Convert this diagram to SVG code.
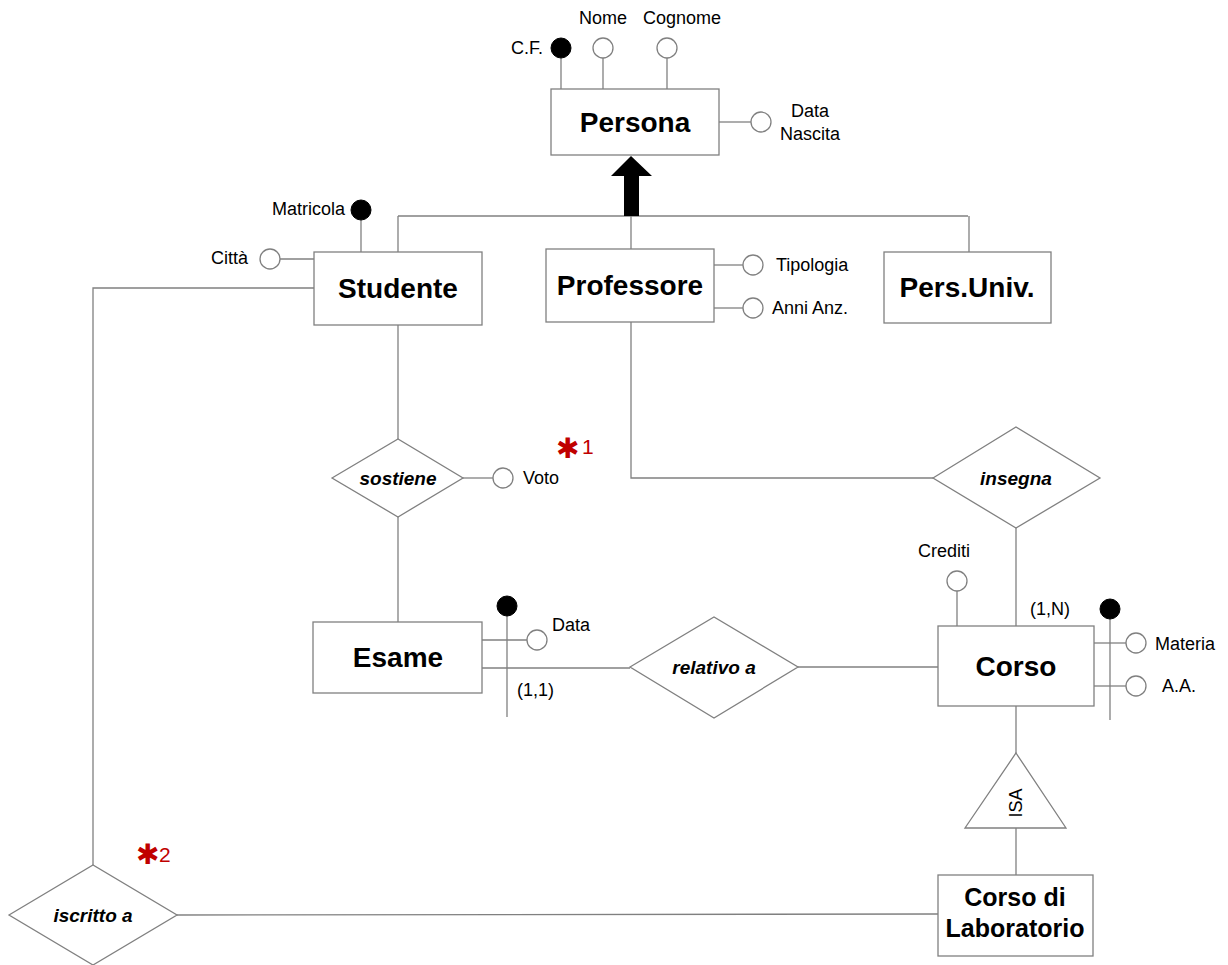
<svg xmlns="http://www.w3.org/2000/svg" width="1228" height="965" viewBox="0 0 1228 965">
<style>
.ln{stroke:#808080;stroke-width:1.3;fill:none}
.ent{fill:#fff;stroke:#808080;stroke-width:1.3}
.rel{fill:#fff;stroke:#808080;stroke-width:1.3}
.att{fill:#fff;stroke:#808080;stroke-width:1.3}
.key{fill:#000;stroke:#000;stroke-width:1}
.et{font-family:"Liberation Sans",Arial,sans-serif;font-weight:bold;font-size:28px;text-anchor:middle;fill:#000}
.et2{font-family:"Liberation Sans",Arial,sans-serif;font-weight:bold;font-size:25px;text-anchor:middle;fill:#000}
.rt{font-family:"Liberation Sans",Arial,sans-serif;font-weight:bold;font-style:italic;font-size:19px;text-anchor:middle;fill:#000}
.at{font-family:"Liberation Sans",Arial,sans-serif;font-size:18px;fill:#000}
.star{font-family:"DejaVu Sans",sans-serif;font-weight:bold;font-size:28px;fill:#c00000}
.num{font-family:"Liberation Sans",Arial,sans-serif;font-size:21px;fill:#c00000}
</style>
<rect width="1228" height="965" fill="#fff"/>
<g id="connectors">
<line class="ln" x1="398" y1="216" x2="968" y2="216"/>
<line class="ln" x1="398" y1="216" x2="398" y2="252"/>
<line class="ln" x1="631" y1="216" x2="631" y2="249"/>
<line class="ln" x1="969" y1="216" x2="969" y2="252"/>
<path d="M631,156 L652,176 L639,176 L639,216 L624,216 L624,176 L611,176 Z" fill="#000"/>
<line class="ln" x1="398" y1="325" x2="398" y2="439"/>
<line class="ln" x1="398" y1="517" x2="398" y2="622"/>
<polyline class="ln" points="631,322 631,478 933,478"/>
<line class="ln" x1="1016" y1="528" x2="1016" y2="626"/>
<line class="ln" x1="482" y1="668" x2="630" y2="668"/>
<line class="ln" x1="798" y1="667" x2="938" y2="667"/>
<line class="ln" x1="1016" y1="706" x2="1016" y2="753"/>
<line class="ln" x1="1016" y1="828" x2="1016" y2="875"/>
<polyline class="ln" points="314,288 93,288 93,865"/>
<line class="ln" x1="177" y1="915" x2="938" y2="914"/>
</g>
<g id="persona">
<line class="ln" x1="561" y1="58" x2="561" y2="89"/>
<line class="ln" x1="603" y1="58" x2="603" y2="89"/>
<line class="ln" x1="667" y1="58" x2="667" y2="89"/>
<line class="ln" x1="719" y1="122" x2="751" y2="122"/>
<circle class="key" cx="561" cy="48" r="10"/>
<circle class="att" cx="603" cy="48" r="10"/>
<circle class="att" cx="667" cy="48" r="10"/>
<circle class="att" cx="761" cy="122" r="10"/>
<rect class="ent" x="551" y="89" width="168" height="66"/>
<text class="et" x="635" y="132">Persona</text>
<text class="at" x="543" y="54" text-anchor="end">C.F.</text>
<text class="at" x="603" y="24" text-anchor="middle">Nome</text>
<text class="at" x="682" y="24" text-anchor="middle">Cognome</text>
<text class="at" x="810" y="117" text-anchor="middle">Data</text>
<text class="at" x="810" y="140" text-anchor="middle">Nascita</text>
</g>
<g id="studente">
<line class="ln" x1="361" y1="220" x2="361" y2="252"/>
<line class="ln" x1="280" y1="259" x2="314" y2="259"/>
<circle class="key" cx="361" cy="210" r="10"/>
<circle class="att" cx="270" cy="259" r="10"/>
<rect class="ent" x="314" y="252" width="168" height="73"/>
<text class="et" x="398" y="298">Studente</text>
<text class="at" x="345" y="215" text-anchor="end">Matricola</text>
<text class="at" x="248" y="264" text-anchor="end">Città</text>
</g>
<g id="professore">
<line class="ln" x1="714" y1="265" x2="743" y2="265"/>
<line class="ln" x1="714" y1="308" x2="743" y2="308"/>
<circle class="att" cx="753" cy="265" r="10"/>
<circle class="att" cx="753" cy="308" r="10"/>
<rect class="ent" x="546" y="249" width="168" height="73"/>
<text class="et" x="630" y="295">Professore</text>
<text class="at" x="776" y="271">Tipologia</text>
<text class="at" x="772" y="314">Anni Anz.</text>
</g>
<g id="persuniv">
<rect class="ent" x="884" y="252" width="167" height="71"/>
<text class="et" x="967" y="297">Pers.Univ.</text>
</g>
<g id="sostiene">
<line class="ln" x1="463" y1="478" x2="493" y2="478"/>
<circle class="att" cx="503" cy="478" r="10"/>
<polygon class="rel" points="332,478 398,439 463,478 398,517"/>
<text class="rt" x="398" y="485">sostiene</text>
<text class="at" x="523" y="484">Voto</text>
</g>
<g id="note1">
<text class="star" x="556" y="458">✱</text>
<text class="num" x="582" y="454">1</text>
</g>
<g id="esame">
<line class="ln" x1="482" y1="640" x2="527" y2="640"/>
<line class="ln" x1="507" y1="606" x2="507" y2="717"/>
<circle class="key" cx="507" cy="606" r="10"/>
<circle class="att" cx="537" cy="640" r="10"/>
<rect class="ent" x="313" y="622" width="169" height="71"/>
<text class="et" x="398" y="667">Esame</text>
<text class="at" x="552" y="631">Data</text>
<text class="at" x="517" y="696">(1,1)</text>
</g>
<g id="relativo">
<polygon class="rel" points="630,667 714,617 798,667 714,718"/>
<text class="rt" x="714" y="674">relativo a</text>
</g>
<g id="insegna">
<polygon class="rel" points="933,478 1016,427 1100,478 1016,528"/>
<text class="rt" x="1016" y="485">insegna</text>
</g>
<g id="corso">
<line class="ln" x1="957" y1="591" x2="957" y2="626"/>
<line class="ln" x1="1094" y1="643" x2="1126" y2="643"/>
<line class="ln" x1="1094" y1="686" x2="1126" y2="686"/>
<line class="ln" x1="1110" y1="609" x2="1110" y2="720"/>
<circle class="att" cx="957" cy="581" r="10"/>
<circle class="key" cx="1110" cy="609" r="10"/>
<circle class="att" cx="1136" cy="643" r="10"/>
<circle class="att" cx="1136" cy="686" r="10"/>
<rect class="ent" x="938" y="626" width="156" height="80"/>
<text class="et" x="1016" y="676">Corso</text>
<text class="at" x="944" y="557" text-anchor="middle">Crediti</text>
<text class="at" x="1030" y="615">(1,N)</text>
<text class="at" x="1155" y="650">Materia</text>
<text class="at" x="1162" y="692">A.A.</text>
</g>
<g id="isa">
<polygon class="rel" points="1016,753 1066,828 965,828"/>
<text class="at" x="0" y="0" text-anchor="middle" transform="translate(1022,803) rotate(-90)">ISA</text>
</g>
<g id="corsolab">
<rect class="ent" x="938" y="875" width="155" height="81"/>
<text class="et2" x="1015" y="906">Corso di</text>
<text class="et2" x="1015" y="937">Laboratorio</text>
</g>
<g id="iscritto">
<polygon class="rel" points="9,915 93,865 177,915 93,965"/>
<text class="rt" x="93" y="922">iscritto a</text>
</g>
<g id="note2">
<text class="star" x="136" y="864">✱</text>
<text class="num" x="159" y="862">2</text>
</g>
</svg>
